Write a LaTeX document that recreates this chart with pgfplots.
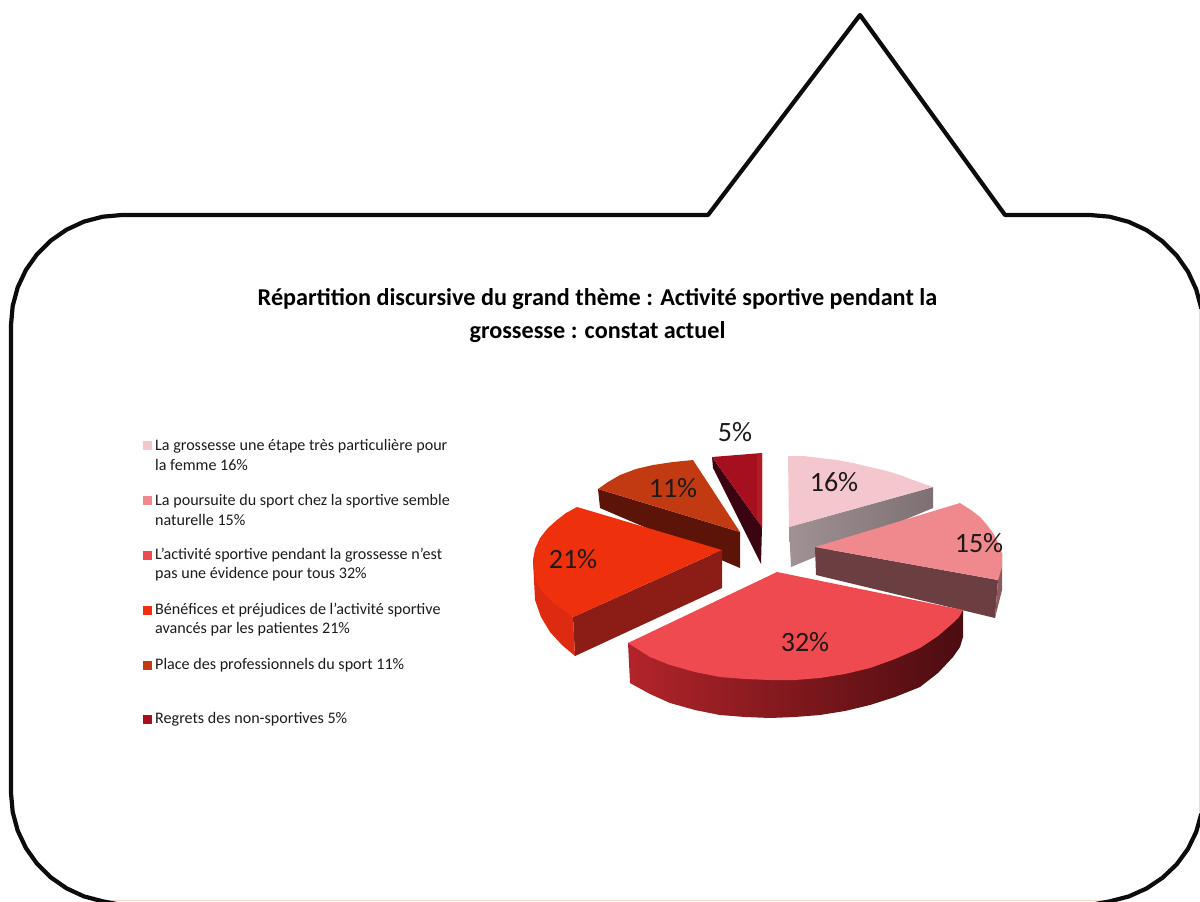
\documentclass[border=0pt]{standalone}
\usepackage{pgfplots}
\usepackage{fontspec}
\setmainfont{Carlito}
\pgfplotsset{compat=1.18}
\definecolor{cA}{HTML}{F4C6CE}
\definecolor{cB}{HTML}{F0898E}
\definecolor{cC}{HTML}{EE4A50}
\definecolor{cD}{HTML}{EE300C}
\definecolor{cE}{HTML}{C23A12}
\definecolor{cF}{HTML}{A60F1E}
\definecolor{txt}{HTML}{1E1A1A}
\definecolor{ln}{HTML}{0C0C0C}
\begin{document}
\begin{tikzpicture}
\begin{axis}[
  scale only axis, width=1200pt, height=902pt,
  xmin=0, xmax=1200, ymin=0, ymax=902, y dir=reverse,
  axis lines=none, ticks=none, clip=true,
  every axis plot/.append style={line join=round},
]
% balloon
\addplot[draw=none, forget plot] coordinates {(0,0) (1200,902)};
\addplot[draw={rgb,255:red,248;green,216;blue,205}, line width=1.5pt] coordinates {(100,900.5) (1110,900.5)};
\addplot[draw={rgb,255:red,248;green,216;blue,205}, line width=1.5pt] coordinates {(1199.5,305) (1199.5,812)};
\addplot[draw=ln, line width=4.2pt] coordinates {(122,905) (102.7,901.3) (84,896.4) (66.5,888.3) (50.7,877.3) (37,863.7) (25.9,848) (17.7,830.6) (12.7,812) (11,793) (11,325) (12.7,305.9) (17.7,287.4) (25.9,270) (37,254.3) (50.7,240.7) (66.5,229.7) (84,221.6) (102.7,216.7) (122,215) (708,215) (860,15) (1005,215) (1090,215) (1109.6,216.7) (1128.6,221.8) (1146.5,230.1) (1162.6,241.4) (1176.6,255.4) (1187.9,271.5) (1196.2,289.4) (1201.3,308.4)};
\addplot[draw=ln, line width=4.2pt] coordinates {(1201.3,813.8) (1196.2,831.9) (1187.9,849) (1176.6,864.4) (1162.6,877.7) (1146.5,888.5) (1128.6,896.5) (1109.6,901.4) (1090,905)};
% 11% wedge
\addplot[fill={rgb,255:red,92;green,20;blue,8}, draw=none] coordinates {(740,532) (598,489) (600,508) (740,568)};
\addplot[fill=cE, draw=none] coordinates {(740,532) (598,489) (608,482) (620,475) (636,469) (653,465) (673,462) (693,460)};
% 5% wedge
\addplot[fill={rgb,255:red,58;green,5;blue,16}, draw=none] coordinates {(712,457) (762,527) (761,564) (713,468)};
\addplot[fill=cF, draw=none] coordinates {(712,457) (737,455) (762,453) (762,527)};
\addplot[fill={rgb,255:red,176;green,26;blue,34}, draw=none] coordinates {(757,454) (762,453) (762,527) (757,520)};
% 21% wedge
\addplot[fill={rgb,255:red,140;green,28;blue,22}, draw=none] coordinates {(722,550) (573,617) (575,656) (722,588)};
\addplot[fill={rgb,255:red,222;green,42;blue,16}, draw=none] coordinates {(533,560) (535,600) (541,617) (550,632) (562,645) (575,656) (573,617) (552,598)};
\addplot[fill=cD, draw=none] coordinates {(722,550) (577,507) (566,513) (557,520) (548,528) (540,538) (535,549) (533,560) (534,572) (537,583) (544,594) (555,604) (573,617)};
% 16% wedge
\addplot[left color={rgb,255:red,160;green,145;blue,148}, right color={rgb,255:red,125;green,112;blue,114}, draw=none] coordinates {(789,527) (933,487) (933,508) (791,567)};
\addplot[fill=cA, draw=none] coordinates {(789,527) (788,456) (803,456) (820,458) (837,460) (853,463) (870,467) (887,471) (900,475) (913,480) (933,487)};
% 15% wedge
\addplot[fill={rgb,255:red,107;green,62;blue,66}, draw=none] coordinates {(815,547) (998,580) (995,618) (816,575)};
\addplot[fill={rgb,255:red,140;green,90;blue,94}, draw=none] coordinates {(998,580) (1002,553) (1002,590) (995,618)};
\addplot[fill=cB, draw=none] coordinates {(815,547) (960,503) (971,510) (980,517) (987,525) (993,533) (998,543) (1002,553) (1002,567) (998,580)};
% 32% wedge
\addplot[left color={rgb,255:red,178;green,36;blue,42}, middle color={rgb,255:red,140;green,22;blue,28}, right color={rgb,255:red,75;green,12;blue,16}, draw=none] coordinates {(628,643) (630,683) (650,694) (670,703) (695,710) (720,715) (745,717) (770,718) (795,717) (820,715) (845,711) (870,705) (895,697) (920,687) (938,673) (953,657) (960,647) (963,637) (963,610)};
\addplot[fill=cC, draw=none] coordinates {(777,572) (963,610) (959,617) (953,623) (938,636) (920,648) (895,659) (870,668) (845,674) (820,678) (795,680) (770,680) (745,679) (720,677) (695,672) (670,665) (650,657) (628,643)};
% legend markers
\addplot[only marks, mark=square*, mark size=4pt, mark options={draw=cA, fill=cA}] coordinates {(147,445)};
\addplot[only marks, mark=square*, mark size=4pt, mark options={draw=cB, fill=cB}] coordinates {(147,500)};
\addplot[only marks, mark=square*, mark size=4pt, mark options={draw=cC, fill=cC}] coordinates {(147,555)};
\addplot[only marks, mark=square*, mark size=4pt, mark options={draw=cD, fill=cD}] coordinates {(147,610)};
\addplot[only marks, mark=square*, mark size=4pt, mark options={draw=cE, fill=cE}] coordinates {(147,665)};
\addplot[only marks, mark=square*, mark size=4pt, mark options={draw=cF, fill=cF}] coordinates {(147,719)};
% text
\node[text=black, anchor=center, align=center, font=\bfseries\fontsize{24.2}{33}\selectfont] at (axis cs:597.5,316) {Répartition discursive du grand thème : Activité sportive pendant la\\grossesse : constat actuel};
\tikzset{leg/.style={anchor=west, text=txt, align=left, inner sep=0pt, font=\fontsize{16.1}{19.2}\selectfont}}
\node[leg] at (axis cs:155,455) {La grossesse une étape très particulière pour\\la femme 16\%};
\node[leg] at (axis cs:155,510) {La poursuite du sport chez la sportive semble\\naturelle 15\%};
\node[leg] at (axis cs:155,565) {L'activité sportive pendant la grossesse n'est\\pas une évidence pour tous 32\%};
\node[leg] at (axis cs:155,620) {Bénéfices et préjudices de l'activité sportive\\avancés par les patientes 21\%};
\node[leg] at (axis cs:155,665) {Place des professionnels du sport 11\%};
\node[leg] at (axis cs:155,719) {Regrets des non-sportives 5\%};
\tikzset{val/.style={anchor=center, text=txt, inner sep=0pt, font=\fontsize{28}{28}\selectfont}}
\node[val] at (axis cs:834,482) {16\%};
\node[val] at (axis cs:979,543) {15\%};
\node[val] at (axis cs:805,642) {32\%};
\node[val] at (axis cs:573,559) {21\%};
\node[val] at (axis cs:673,488) {11\%};
\node[val] at (axis cs:735,432) {5\%};
\end{axis}
\end{tikzpicture}
\end{document}
